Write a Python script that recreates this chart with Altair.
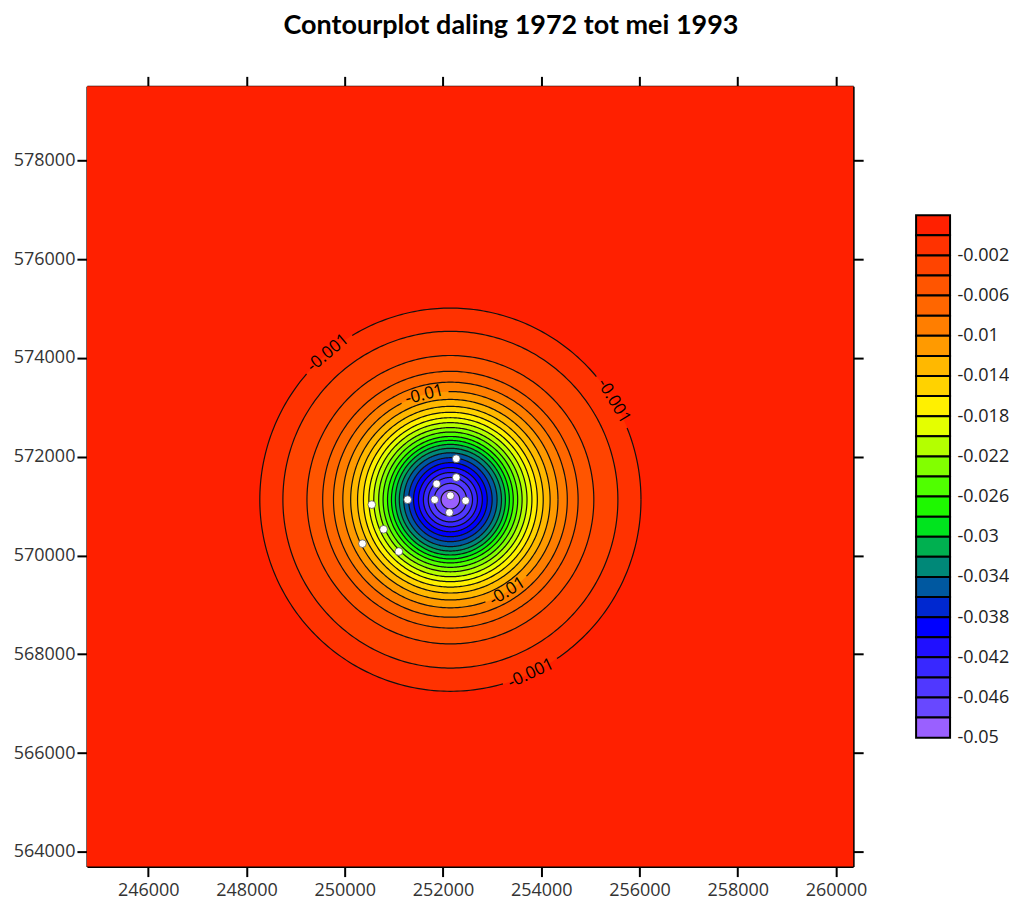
import numpy as np
import pandas as pd
import altair as alt

# ---------------- data ----------------
TITLE = "Contourplot daling 1972 tot mei 1993"

CENTER_X = 252150
CENTER_Y = 571130

# contour levels and their (approximate) radius in metres
LEVELS = [-0.001, -0.002, -0.004, -0.006, -0.008, -0.010, -0.012, -0.014,
          -0.016, -0.018, -0.020, -0.022, -0.024, -0.026, -0.028, -0.030,
          -0.032, -0.034, -0.036, -0.038, -0.040, -0.042, -0.044, -0.046,
          -0.048]
RADII = [3880, 3410, 2920, 2600, 2380, 2190, 2030, 1890, 1770, 1660, 1560,
         1460, 1370, 1280, 1200, 1120, 1040, 950, 850, 750, 650, 550, 450,
         330, 190]

# colours of the 26 bands (outermost first) = colour-bar boxes (top first)
BAND_COLORS = ["#FF2000", "#FF3200", "#FF4400", "#FF5500", "#FF6600",
               "#FF7E00", "#FF9A00", "#FFB800", "#FFD200", "#FFF000",
               "#E4FF00", "#B4FF00", "#82FF00", "#50FF00", "#1EF800",
               "#00E41E", "#00B050", "#008878", "#0058A0", "#0028D0",
               "#0000FF", "#2010FF", "#3828FF", "#5038FF", "#6848FF",
               "#9A60FF"]

# measurement points (white dots)
POINT_X = [252270, 252270, 251870, 252150, 251830, 252460, 252130, 251280,
           250550, 250790, 250360, 251100]
POINT_Y = [571960, 571580, 571450, 571210, 571130, 571110, 570870, 571130,
           571030, 570530, 570240, 570080]

# contour labels: level index, polar angle (deg) around the centre, text
LABEL_LEVEL_IDX = [0, 0, 0, 5, 5]
LABEL_THETA = [130, 31, 295, 104, 302]
LABEL_TEXT = ["-0.001", "-0.001", "-0.001", "-0.01", "-0.01"]

X_TICKS = [246000, 248000, 250000, 252000, 254000, 256000, 258000, 260000]
Y_TICKS = [564000, 566000, 568000, 570000, 572000, 574000, 576000, 578000]
X_DOMAIN = [244750, 260350]
Y_DOMAIN = [563700, 579500]

CB_TOP = 0.002
CB_STEP = 0.002
CB_LABELS = [-0.002, -0.006, -0.01, -0.014, -0.018, -0.022, -0.026, -0.03,
             -0.034, -0.038, -0.042, -0.046, -0.05]

# ---------------- build tables ----------------
FONT = "Open Sans"
xs = alt.Scale(domain=X_DOMAIN, nice=False, zero=False)
ys = alt.Scale(domain=Y_DOMAIN, nice=False, zero=False)

ax_common = dict(grid=False, title=None, tickSize=10, tickWidth=2,
                 tickColor="black", domainColor="black", domainWidth=2,
                 labelFont=FONT, labelFontSize=18, labelColor="#333333")

x_bottom = alt.Axis(orient="bottom", values=X_TICKS, format="d",
                    labelPadding=5, **ax_common)
y_left = alt.Axis(orient="left", values=Y_TICKS, format="d",
                  labelPadding=2, **ax_common)
x_top = alt.Axis(orient="top", values=X_TICKS, labels=False, **ax_common)
y_right = alt.Axis(orient="right", values=Y_TICKS, labels=False, **ax_common)

bg = pd.DataFrame({"x": [X_DOMAIN[0]], "x2": [X_DOMAIN[1]],
                   "y": [Y_DOMAIN[0]], "y2": [Y_DOMAIN[1]]})
background = alt.Chart(bg).mark_rect(color=BAND_COLORS[0]).encode(
    x=alt.X("x:Q", scale=xs, axis=x_bottom),
    x2="x2:Q",
    y=alt.Y("y:Q", scale=ys, axis=y_left),
    y2="y2:Q",
)
frame = alt.Chart(bg).mark_rect(opacity=0).encode(
    x=alt.X("x:Q", scale=xs, axis=x_top),
    x2="x2:Q",
    y=alt.Y("y:Q", scale=ys, axis=y_right),
    y2="y2:Q",
)

layers = [background, frame]
t_half = np.linspace(0, np.pi, 241)
for i, r in enumerate(RADII):
    d = pd.DataFrame({
        "x": CENTER_X + r * np.cos(t_half),
        "y": CENTER_Y + r * np.sin(t_half),
        "y2": CENTER_Y - r * np.sin(t_half),
    })
    layers.append(
        alt.Chart(d).mark_area(color=BAND_COLORS[i + 1], interpolate="linear").encode(
            x=alt.X("x:Q", scale=xs, axis=None),
            y=alt.Y("y:Q", scale=ys, stack=None, axis=None),
            y2="y2:Q",
        )
    )

# contour lines with gaps where labels are
rows = []
seg_id = 0
for i, r in enumerate(RADII):
    gaps = [th for li, th in zip(LABEL_LEVEL_IDX, LABEL_THETA) if li == i]
    half = 9 if i == 0 else 13
    current = []
    for a in range(0, 361):
        in_gap = any(abs(((a - g + 180) % 360) - 180) < half for g in gaps)
        if in_gap:
            if current:
                rows.extend(current)
                seg_id += 1
                current = []
            continue
        rad = np.deg2rad(a)
        current.append({"x": CENTER_X + r * np.cos(rad),
                        "y": CENTER_Y + r * np.sin(rad),
                        "seg": seg_id, "t": a})
    if current:
        rows.extend(current)
        seg_id += 1
lines_df = pd.DataFrame(rows)
lines = alt.Chart(lines_df).mark_line(color="#111111", strokeWidth=1.2).encode(
    x=alt.X("x:Q", scale=xs, axis=None),
    y=alt.Y("y:Q", scale=ys, axis=None),
    detail="seg:N",
    order="t:Q",
)
layers.append(lines)

# labels
lab_rows = []
for li, th, tx in zip(LABEL_LEVEL_IDX, LABEL_THETA, LABEL_TEXT):
    r = RADII[li]
    rad = np.deg2rad(th)
    rot = (90 - th) % 360
    if 90 < rot < 270:
        rot = (rot + 180) % 360
    lab_rows.append({"x": CENTER_X + r * np.cos(rad),
                     "y": CENTER_Y + r * np.sin(rad),
                     "txt": tx, "ang": rot})
labels = alt.Chart(pd.DataFrame(lab_rows)).mark_text(
    font=FONT, fontSize=17, color="black", align="center", baseline="middle"
).encode(
    x=alt.X("x:Q", scale=xs, axis=None),
    y=alt.Y("y:Q", scale=ys, axis=None),
    text="txt:N",
    angle=alt.Angle("ang:Q", scale=None),
)
layers.append(labels)

pts = alt.Chart(pd.DataFrame({"x": POINT_X, "y": POINT_Y})).mark_point(
    filled=True, fill="white", stroke="#444444", strokeWidth=0.7,
    size=60, shape="circle", opacity=1
).encode(
    x=alt.X("x:Q", scale=xs, axis=None),
    y=alt.Y("y:Q", scale=ys, axis=None),
)
layers.append(pts)

main = alt.layer(*layers).properties(width=767, height=781)

# colour bar
n_box = len(BAND_COLORS)
cb = pd.DataFrame({
    "k": list(range(n_box)),
    "top": [round(CB_TOP - CB_STEP * k, 4) for k in range(n_box)],
    "bot": [round(CB_TOP - CB_STEP * (k + 1), 4) for k in range(n_box)],
})
cb_lo = CB_TOP - CB_STEP * n_box
px = (CB_TOP - cb_lo) / 523.0
cb_scale = alt.Scale(domain=[cb_lo - 129 * px, CB_TOP + 129 * px],
                     nice=False, zero=False)
colorbar = alt.Chart(cb).mark_rect(stroke="black", strokeWidth=2).encode(
    y=alt.Y("top:Q", scale=cb_scale,
            axis=alt.Axis(orient="right", values=CB_LABELS, ticks=False,
                          domain=False, grid=False, title=None,
                          labelExpr="'' + datum.value",
                          labelFont=FONT, labelFontSize=18,
                          labelColor="#222222", labelPadding=7)),
    y2="bot:Q",
    color=alt.Color("k:O", scale=alt.Scale(domain=list(range(n_box)),
                                           range=BAND_COLORS), legend=None),
).properties(width=34, height=781)

chart = alt.hconcat(main, colorbar, spacing=63, bounds="flush").properties(
    title=alt.TitleParams(TITLE, font="Lato", fontSize=27, fontWeight="bold",
                          anchor="middle", offset=35, color="black"),
    padding={"left": 5, "top": 4, "right": 0, "bottom": 0},
).configure_view(stroke=None)

chart.save("out.html", embed_options={"renderer": "svg", "actions": False})
